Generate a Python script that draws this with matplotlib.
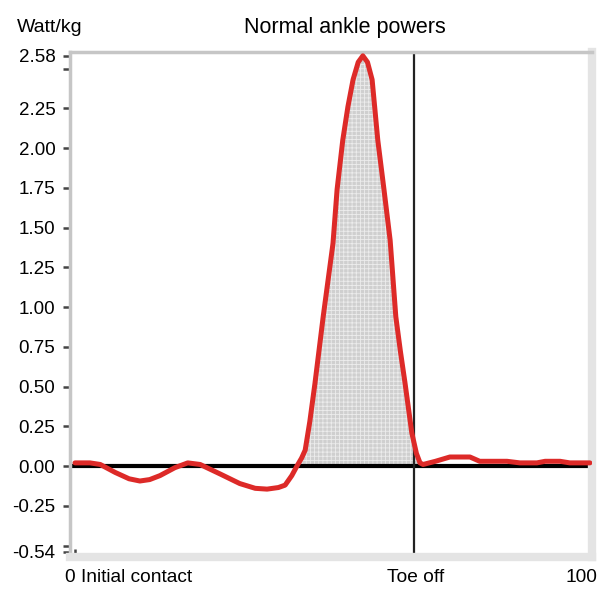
import numpy as np
import matplotlib
matplotlib.use('Agg')
import matplotlib.pyplot as plt

plt.rcParams['font.family'] = ['Liberation Sans', 'DejaVu Sans']
plt.rcParams['hatch.linewidth'] = 0.6

# gait cycle (%) and ankle power (W/kg)
gait_pct = [0, 2.9, 4.9, 7.8, 10.5, 12.6, 14.5, 16.5, 19.4, 21.9, 24.3, 28.2, 32.0,
            35.0, 37.3, 39.5, 40.8, 42.1, 43.1, 44.0, 44.7, 45.6, 46.6, 48.2, 50.1,
            50.9, 52.0, 53.0, 54.0, 55.0, 55.9, 56.8, 57.7, 58.8, 60.0, 61.2, 62.3,
            63.2, 64.1, 65.4, 66.3, 67.0, 67.6, 70.0, 72.8, 76.7, 78.6, 83.9, 86.4,
            89.7, 91.3, 94.2, 96.1, 100]
power = [0.02, 0.02, 0.01, -0.04, -0.08, -0.094, -0.085, -0.06, -0.01, 0.02, 0.01,
         -0.05, -0.11, -0.14, -0.145, -0.135, -0.12, -0.06, 0.0, 0.05, 0.10, 0.28,
         0.52, 0.94, 1.40, 1.74, 2.05, 2.26, 2.43, 2.54, 2.58, 2.54, 2.43, 2.05,
         1.74, 1.42, 0.94, 0.72, 0.52, 0.21, 0.08, 0.02, 0.01, 0.03, 0.057, 0.057,
         0.03, 0.03, 0.02, 0.02, 0.03, 0.03, 0.02, 0.02]
toe_off = 65.8

ytick_vals = [2.58, 2.25, 2.00, 1.75, 1.50, 1.25, 1.00, 0.75, 0.50, 0.25, 0.00, -0.25, -0.54]

x = np.array(gait_pct)
y = np.array(power)

fig = plt.figure(figsize=(6.01, 5.91), dpi=100)
ax = fig.add_axes([0.1165, 0.0575, 0.8685, 0.8545])

# shaded positive work area
ax.fill_between(x, 0, y, where=(y > 0) & (x > 40) & (x < 68), interpolate=True,
                facecolor='#cfcfcf', edgecolor='#ececec', hatch='++++', linewidth=0)
ax.axhline(0, color='black', linewidth=3, zorder=2)
ax.axvline(toe_off, color='#222222', linewidth=1.6, zorder=2)
ax.plot(x, y, color='#dd2a28', linewidth=3.6, solid_joinstyle='round',
        solid_capstyle='round', zorder=3)

ax.set_xlim(-0.97, 100.4)
ax.set_ylim(-0.572, 2.604)

ax.set_yticks(ytick_vals)
ax.set_yticklabels([f'{v:.2f}' for v in ytick_vals], fontsize=13.5)
ax.set_yticks([2.5, -0.5], minor=True)
ax.tick_params(axis='y', which='both', length=5, width=1.8, color='#444444', pad=5.5)

ax.set_xticks([0, 100])
ax.set_xticklabels([])
ax.tick_params(axis='x', length=6, width=1.8, color='#444444', direction='in')

for s in ['left', 'top']:
    ax.spines[s].set_color('#c6c6c6')
    ax.spines[s].set_linewidth(2.5)
for s in ['right', 'bottom']:
    ax.spines[s].set_color('#e4e4e4')
    ax.spines[s].set_linewidth(6)

fig.text(65 / 601, 1 - 578 / 591, '0 Initial contact', fontsize=13.8, ha='left', va='center')
fig.text(416 / 601, 1 - 578 / 591, 'Toe off', fontsize=13.8, ha='center', va='center')
fig.text(597 / 601, 1 - 578 / 591, '100', fontsize=13.8, ha='right', va='center')
fig.text(17 / 601, 1 - 27 / 591, 'Watt/kg', fontsize=14, ha='left', va='center')
fig.text(345 / 601, 1 - 27 / 591, 'Normal ankle powers', fontsize=15.5, ha='center', va='center')

fig.savefig('out.png', dpi=100)
